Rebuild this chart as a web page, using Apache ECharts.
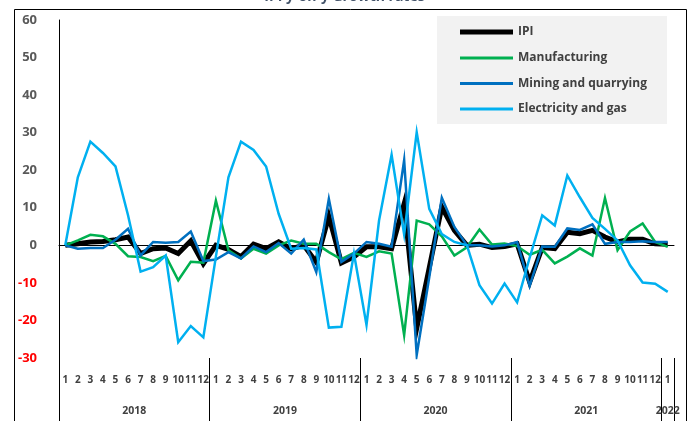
<!DOCTYPE html>
<html>
<head>
<meta charset="utf-8">
<script src="https://cdn.jsdelivr.net/npm/echarts@6/dist/echarts.min.js"></script>
<style>
html,body{margin:0;padding:0;background:#fff;}
#chart{width:689px;height:421px;}
</style>
</head>
<body>
<div id="chart"></div>
<script>
// ---- data ----
var monthLabels = ['1','2','3','4','5','6','7','8','9','10','11','12',
  '1','2','3','4','5','6','7','8','9','10','11','12',
  '1','2','3','4','5','6','7','8','9','10','11','12',
  '1','2','3','4','5','6','7','8','9','10','11','12',
  '1'];
var yearLabels = ['2018','2019','2020','2021','2022'];
var yearCenters = [6, 18, 30, 42, 48.5];
var yearBounds = [0, 12, 24, 36, 48, 49];
var seriesNames = ['IPI','Manufacturing','Mining and quarrying','Electricity and gas'];

var ipi = [0, 0.4, 0.9, 1.0, 1.5, 2.2, -2.2, -0.9, -0.7, -2.2, 1.2, -4.9,
  0, -1.1, -3.0, 0.3, -0.9, 0.9, -0.9, 0, -4.5, 7.7, -4.7, -3.1,
  -0.4, -0.4, -0.9, 11.1, -22.1, -6.0, 10.2, 4.0, 0, 0.3, -0.6, -0.3,
  0.4, -9.8, -0.6, -0.9, 3.5, 3.1, 4.0, 2.2, 0.9, 1.6, 1.6, 0.4,
  0.3];
var manufacturing = [0, 1.3, 2.8, 2.4, 0.4, -2.9, -3.1, -4.2, -2.8, -9.3, -4.4, -4.6,
  11.9, -1.3, -3.5, -0.9, -2.2, 0, 1.3, 0.4, 0.4, -1.8, -3.7, -2.0,
  -3.1, -1.6, -2.2, -23.9, 6.6, 5.6, 2.4, -2.7, -0.5, 4.2, 0.2, 0.5,
  -0.2, -2.5, -1.2, -4.8, -3.0, -0.8, -2.7, 12.6, -1.3, 3.7, 5.8, 0.9,
  -0.4];
var mining = [0, -0.9, -0.7, -0.7, 1.5, 4.4, -2.7, 0.9, 0.7, 0.9, 3.7, -4.2,
  -3.8, -1.8, -3.5, -0.3, -1.8, 0.6, -2.2, 1.5, -7.1, 12.4, -4.4, -2.2,
  0.9, 0.4, -0.4, 22.7, -29.2, -8.5, 12.7, 4.9, 0, 0, -0.3, 0,
  0.9, -10.8, -0.3, -0.4, 4.5, 4.1, 5.6, 0.4, 0.9, 0.9, 1.1, 0.9,
  0.9];
var electricity = [0, 18.1, 27.6, 24.6, 21.0, 8.0, -7.0, -5.8, -2.7, -25.8, -21.5, -24.5,
  -3.0, 18.1, 27.6, 25.4, 21.0, 8.4, -0.9, -0.7, -1.1, -21.9, -21.7, -2.2,
  -21.2, 6.6, 24.1, 2.9, 30.1, 9.7, 3.0, 0.9, 0, -10.6, -15.5, -10.2,
  -15.2, -3.3, 8.0, 5.3, 18.6, 12.8, 7.3, 4.4, 1.3, -5.3, -9.9, -10.2,
  -12.4];
var yMin = -30, yMax = 60, yStep = 10;

// ---- chart ----
var chart = echarts.init(document.getElementById('chart'), null, {renderer: 'canvas'});
var FONT = '"Open Sans", "DejaVu Sans", sans-serif';
var TXT = '#404040';
var colors = ['#000000', '#00B050', '#0070C0', '#00B0F0'];
var widths = [5, 2.5, 2.5, 2.5];
var dataSets = [ipi, manufacturing, mining, electricity];

var series = dataSets.map(function (d, i) {
  return {
    name: seriesNames[i],
    type: 'line',
    xAxisIndex: 0,
    yAxisIndex: 0,
    data: d,
    symbol: 'none',
    smooth: false,
    z: 3 + i,
    lineStyle: {color: colors[i], width: widths[i], join: 'miter'},
    itemStyle: {color: colors[i]},
    emphasis: {disabled: true},
    animation: false
  };
});

var option = {
  animation: false,
  backgroundColor: '#ffffff',
  grid: {left: 59, right: 15, top: 20, bottom: 63, containLabel: false},
  xAxis: [
    {
      type: 'category',
      data: monthLabels,
      position: 'bottom',
      boundaryGap: true,
      axisLine: {show: false, onZero: false},
      axisTick: {show: false},
      splitLine: {show: false},
      axisLabel: {interval: 0, margin: 17, fontSize: 10, fontWeight: 'bold', color: TXT, fontFamily: FONT, hideOverlap: false}
    },
    {
      type: 'value',
      min: 0, max: 49,
      position: 'bottom',
      axisLine: {show: false, onZero: false},
      splitLine: {show: false},
      axisTick: {show: true, inside: false, length: 64, customValues: yearBounds, lineStyle: {color: '#000', width: 1}},
      axisLabel: {
        show: true, margin: 48, fontSize: 10.5, fontWeight: 'bold', color: TXT, fontFamily: FONT,
        customValues: yearCenters,
        formatter: function (v) {
          var k = yearCenters.indexOf(v);
          return k >= 0 ? yearLabels[k] : '';
        }
      }
    },
    {
      type: 'category',
      data: monthLabels,
      boundaryGap: true,
      axisLine: {show: true, onZero: true, lineStyle: {color: '#000', width: 1}},
      axisTick: {show: false},
      axisLabel: {show: false},
      splitLine: {show: false}
    }
  ],
  yAxis: [{
    type: 'value',
    min: yMin, max: yMax, interval: yStep,
    axisLine: {show: true, onZero: false, lineStyle: {color: '#000', width: 1}},
    axisTick: {show: false},
    splitLine: {show: false},
    axisLabel: {
      margin: 22, fontFamily: FONT,
      formatter: function (v) { return v < 0 ? '{neg|' + v + '}' : '{pos|' + v + '}'; },
      rich: {
        neg: {color: '#FF0000', fontSize: 13, fontWeight: 'bold', fontFamily: FONT},
        pos: {color: '#595959', fontSize: 13, fontWeight: 'bold', fontFamily: FONT}
      }
    }
  }],
  legend: [
    {
      data: [seriesNames[0]],
      left: 455, top: 20,
      orient: 'vertical',
      icon: 'rect',
      itemWidth: 53, itemHeight: 5,
      itemGap: 10,
      selectedMode: false,
      textStyle: {color: TXT, fontSize: 12, fontWeight: 'bold', fontFamily: FONT, lineHeight: 14}
    },
    {
      data: seriesNames.slice(1),
      left: 455, top: 46,
      orient: 'vertical',
      icon: 'rect',
      itemWidth: 53, itemHeight: 3,
      itemGap: 11.5,
      selectedMode: false,
      textStyle: {color: TXT, fontSize: 12, fontWeight: 'bold', fontFamily: FONT, lineHeight: 14}
    }
  ],
  graphic: [
    {
      type: 'rect', z: -10, silent: true,
      shape: {x: 437, y: 16, width: 230, height: 108},
      style: {fill: '#F2F2F2', stroke: 'none'}
    },
    {
      type: 'rect', z: 100, silent: true,
      shape: {x: 14.5, y: 9.5, width: 672, height: 430},
      style: {fill: 'none', stroke: '#000', lineWidth: 1}
    },
    {
      type: 'text', z: 100, silent: true,
      left: 'center', top: -10,
      style: {text: 'IPI y-on-y Growth rates', fill: '#44546A', font: 'bold 14px ' + FONT}
    }
  ],
  series: series
};
chart.setOption(option);
</script>
</body>
</html>
